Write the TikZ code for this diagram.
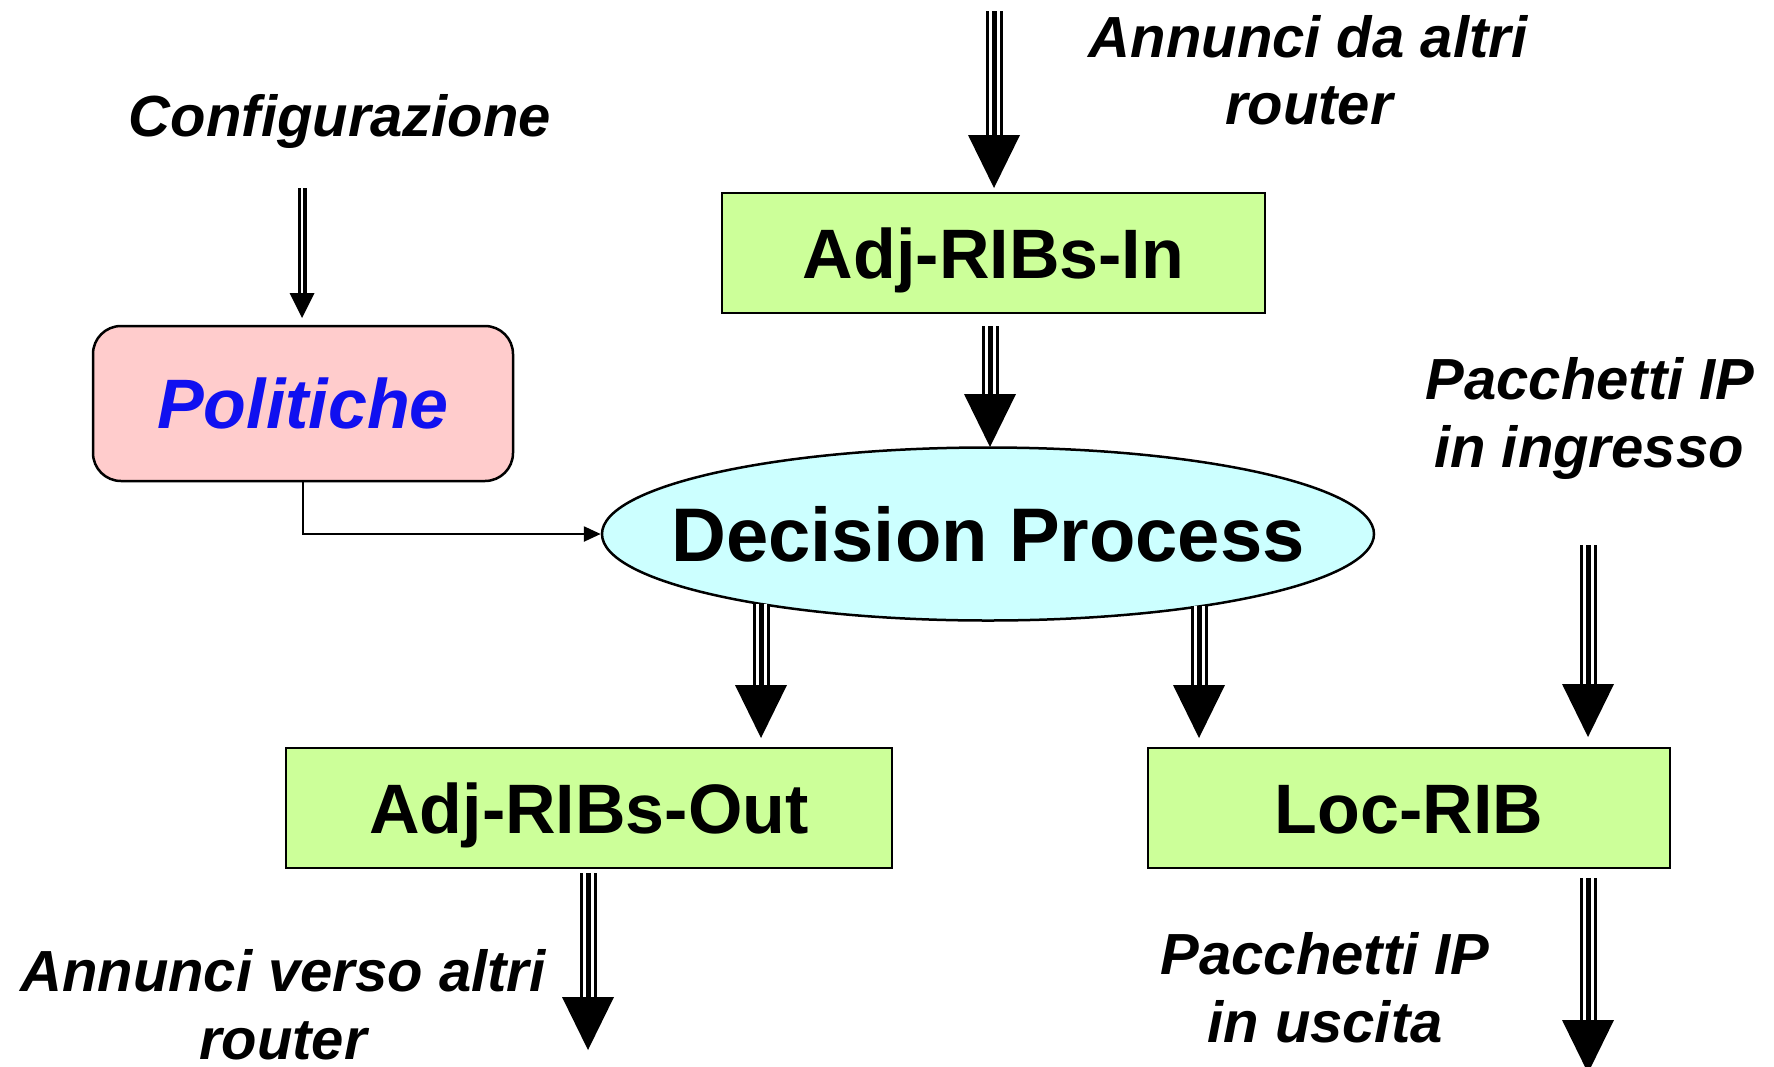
\documentclass[tikz,border=0pt]{standalone}
\usepackage{fontspec}
\setmainfont{Liberation Sans}
\usetikzlibrary{shapes.geometric,arrows.meta,calc}
\definecolor{boxgreen}{RGB}{204,255,153}
\definecolor{boxpink}{RGB}{255,204,204}
\definecolor{elcyan}{RGB}{204,255,255}
\definecolor{polblue}{RGB}{16,16,240}
\newcommand{\bigarrow}[2]{%
  \draw[line width=17pt] (#1) -- ($(#2)+(0,-50)$);
  \draw[white,line width=11pt] (#1) -- ($(#2)+(0,-50)$);
  \draw[line width=5pt] (#1) -- ($(#2)+(0,-50)$);
  \fill (#2) -- ++(-26,-53) -- ++(52,0) -- cycle;}
\begin{document}
\begin{tikzpicture}[x=1pt,y=-1pt,
  ribbox/.style={draw, line width=2.5pt, fill=boxgreen, inner sep=0pt,
    minimum height=120pt, text height=50pt, text depth=0pt,
    font=\fontsize{70}{72}\selectfont\bfseries},
  lbl/.style={anchor=base, font=\fontsize{58}{60}\selectfont\bfseries\itshape}]
\useasboundingbox (0,0) rectangle (1774,1066);
% boxes
\node[ribbox, minimum width=543pt] (adjin) at (993.5,253) {Adj-RIBs-In};
\node[ribbox, minimum width=606pt] (adjout) at (589,808) {Adj-RIBs-Out};
\node[ribbox, minimum width=522pt] (locrib) at (1409,808) {Loc-RIB};
\node[draw, line width=2.5pt, fill=boxpink, rounded corners=28pt, inner sep=0pt,
  minimum width=420pt, minimum height=155pt, text height=50pt, text depth=0pt,
  text=polblue, font=\fontsize{70}{72}\selectfont\bfseries\itshape] (pol) at (303,403.5) {Politiche};
\node[ellipse, draw, line width=2.5pt, fill=elcyan, inner sep=0pt,
  minimum width=772pt, minimum height=173pt,
  label={[text height=54pt, text depth=0pt, inner sep=0pt, font=\fontsize{76}{78}\selectfont\bfseries]center:Decision Process}] (dec) at (988,534) {};
% labels
\node[lbl] (lconf) at (340,136) {Configurazione};
\node[lbl] (lin1) at (1308,57) {Annunci da altri};
\node[lbl] (lin2) at (1309,124) {router};
\node[lbl] (lpk1) at (1590,399) {Pacchetti IP};
\node[lbl] (lpk2) at (1589,467) {in ingresso};
\node[lbl] (lout1) at (283,991) {Annunci verso altri};
\node[lbl] (lout2) at (283,1059) {router};
\node[lbl] (lpo1) at (1325,974) {Pacchetti IP};
\node[lbl] (lpo2) at (1325,1042) {in uscita};
% coordinates
\coordinate (sA) at (994,11);   \coordinate (tA) at (994,188);
\coordinate (sB) at (990,326);  \coordinate (tB) at (990,447);
\coordinate (sC) at (761,604);  \coordinate (tC) at (761,738);
\coordinate (sD) at (1199,606); \coordinate (tD) at (1199,738);
\coordinate (sE) at (1588,545); \coordinate (tE) at (1588,737);
\coordinate (sF) at (1588,878); \coordinate (tF) at (1588,1073);
\coordinate (sG) at (588,873);  \coordinate (tG) at (588,1050);
\coordinate (sH) at (302,188);  \coordinate (tH) at (302,318);
% arrows
\bigarrow{sA}{tA}
\bigarrow{sB}{tB}
\bigarrow{sC}{tC}
\bigarrow{sD}{tD}
\bigarrow{sE}{tE}
\bigarrow{sF}{tF}
\bigarrow{sG}{tG}
\draw[line width=9pt] (sH) -- ($(tH)+(0,-22)$);
\draw[white,line width=2.4pt] (sH) -- ($(tH)+(0,-22)$);
\fill (tH) -- ++(-12.5,-25) -- ++(25,0) -- cycle;
\draw[line width=2.5pt, -{Triangle[length=17pt,width=15pt]}] (pol.south) |- (dec.west);
\end{tikzpicture}
\end{document}
